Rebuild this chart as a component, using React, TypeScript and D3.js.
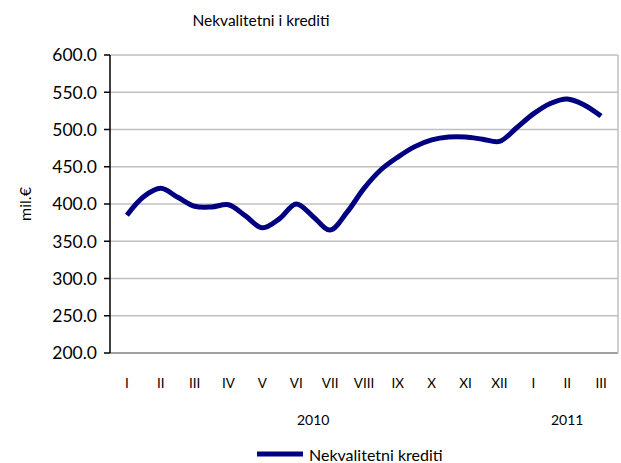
import React from "react";
import * as d3 from "d3";

const title = "Nekvalitetni i krediti";
const yAxisTitle = "mil.€";
const seriesName = "Nekvalitetni krediti";
const months = ["I", "II", "III", "IV", "V", "VI", "VII", "VIII", "IX", "X", "XI", "XII", "I", "II", "III"];
const years = [
  { label: "2010", from: 0, to: 11 },
  { label: "2011", from: 12, to: 14 },
];
// semi-monthly observations, from I 2010 to III 2011
const values = [
  385, 410, 421, 409, 397, 396, 399, 384, 368, 380, 400, 383, 365, 389, 421,
  446, 463, 477, 486, 490, 490, 487, 484, 502, 521, 535, 541, 533, 518,
];
const yTicks = [200, 250, 300, 350, 400, 450, 500, 550, 600];

const W = 621;
const H = 463;
const left = 110;
const right = 618;
const top = 55;
const bottom = 353;
const FONT = "Lato, 'Open Sans', sans-serif";

export default function App() {
  const x = d3.scaleBand<number>().domain(months.map((_, i) => i)).range([left, right]).padding(0);
  const cx = (i: number) => (x(i) as number) + x.bandwidth() / 2;
  const xp = d3.scaleLinear().domain([0, months.length - 1]).range([cx(0), cx(months.length - 1)]);
  const y = d3.scaleLinear().domain([200, 600]).range([bottom, top]);
  const line = d3
    .line<number>()
    .x((_, i) => xp(i / 2))
    .y((d) => y(d))
    .curve(d3.curveCatmullRom.alpha(0.5));

  return (
    <svg width={W} height={H} style={{ position: "absolute", left: 0, top: 0 }} fontFamily={FONT}>
      <rect width={W} height={H} fill="#fff" />
      <text x={261} y={26} textAnchor="middle" fontSize={15.5} fill="#000">
        {title}
      </text>
      {yTicks.map((t) => (
        <g key={t}>
          {t !== 200 && (
            <line x1={left} x2={right} y1={y(t)} y2={y(t)} stroke="#bfbfbf" strokeWidth={1.5} />
          )}
          <line x1={left - 6} x2={left} y1={y(t)} y2={y(t)} stroke="#000" strokeWidth={1.5} />
          <text x={97} y={y(t)} dy="0.36em" textAnchor="end" fontSize={17.5} fill="#000">
            {t.toFixed(1)}
          </text>
        </g>
      ))}
      <line x1={left} x2={right} y1={bottom} y2={bottom} stroke="#808080" strokeWidth={1.5} />
      <line x1={right} x2={right} y1={top} y2={bottom} stroke="#bfbfbf" strokeWidth={1.5} />
      <line x1={left} x2={left} y1={top} y2={bottom} stroke="#000" strokeWidth={1.5} />
      <text
        transform={`translate(31,${(top + bottom) / 2}) rotate(-90)`}
        textAnchor="middle"
        fontSize={16}
        fill="#000"
      >
        {yAxisTitle}
      </text>
      {months.map((m, i) => (
        <text key={i} x={cx(i)} y={388} textAnchor="middle" fontSize={13.5} fill="#000">
          {m}
        </text>
      ))}
      {years.map((yr) => (
        <text
          key={yr.label}
          x={(cx(yr.from) + cx(yr.to)) / 2}
          y={425}
          textAnchor="middle"
          fontSize={14}
          fill="#000"
        >
          {yr.label}
        </text>
      ))}
      <path d={line(values) ?? ""} fill="none" stroke="#000080" strokeWidth={5} strokeLinejoin="round" />
      <line x1={257} x2={303} y1={454} y2={454} stroke="#000080" strokeWidth={5} />
      <text x={309} y={455} dy="0.36em" fontSize={16} fill="#000">
        {seriesName}
      </text>
    </svg>
  );
}
